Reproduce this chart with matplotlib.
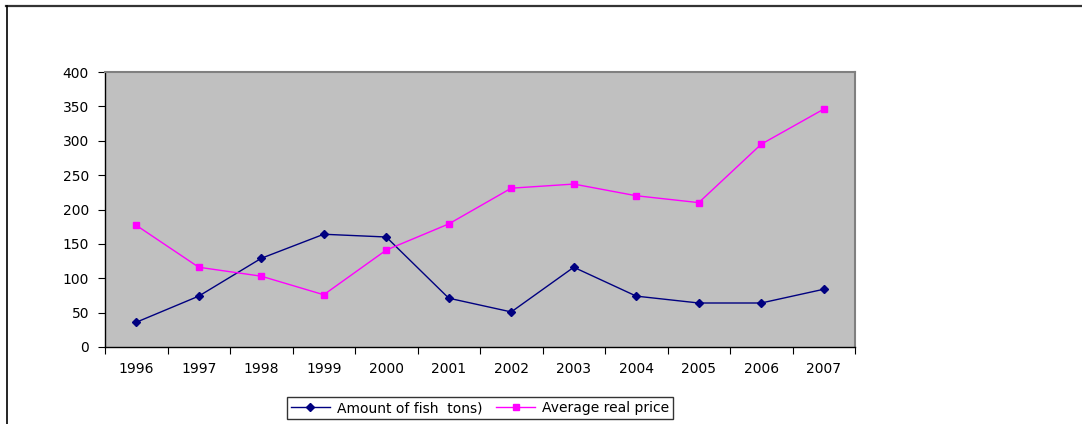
import matplotlib
matplotlib.use("Agg")
import matplotlib.pyplot as plt
from matplotlib.lines import Line2D

plt.rcParams['font.family'] = ['DejaVu Sans']

years = ['1996', '1997', '1998', '1999', '2000', '2001',
         '2002', '2003', '2004', '2005', '2006', '2007']
fish_tons = [36, 74, 129, 164, 160, 71, 51, 116, 74, 64, 64, 84]
real_price = [177, 116, 103, 76, 141, 179, 231, 237, 220, 210, 295, 346]
y_ticks = [0, 50, 100, 150, 200, 250, 300, 350, 400]

W, H = 1082, 424
fig = plt.figure(figsize=(W / 100, H / 100), dpi=100, facecolor='white')
ax = fig.add_axes([105 / W, (H - 347) / H, 750 / W, 275 / H])
ax.set_facecolor('#C0C0C0')

x = list(range(len(years)))
ax.plot(x, fish_tons, color='#000080', lw=1, marker='D', ms=4.5,
        label='Amount of fish  tons)')
ax.plot(x, real_price, color='#FF00FF', lw=1, marker='s', ms=5,
        label='Average real price')

ax.set_xlim(-0.5, len(years) - 0.5)
ax.set_ylim(0, 400)
ax.set_yticks(y_ticks)

# category boundaries get the tick marks, centres get the labels
ax.set_xticks([i - 0.5 for i in range(len(years) + 1)])
ax.set_xticklabels([])
ax.set_xticks(x, minor=True)
ax.set_xticklabels(years, minor=True)
ax.tick_params(axis='x', which='major', length=5, width=0.8, direction='out')
ax.tick_params(axis='x', which='minor', length=0, pad=11, labelsize=10)
ax.tick_params(axis='y', length=5, width=0.8, direction='out', pad=6.5, labelsize=10)

for side in ('top', 'right'):
    ax.spines[side].set_color('#808080')
    ax.spines[side].set_linewidth(1.5)
for side in ('left', 'bottom'):
    ax.spines[side].set_color('black')
    ax.spines[side].set_linewidth(1)

leg = fig.legend(loc='center', bbox_to_anchor=(480 / W, 1 - 408 / H),
                 ncol=2, fontsize=10, frameon=True, fancybox=False,
                 handlelength=2.8, handletextpad=0.5, columnspacing=1.0,
                 borderpad=0.3, markerscale=0.8)
leg.get_frame().set_edgecolor('black')
leg.get_frame().set_linewidth(1)

# outer chart border
fig.add_artist(Line2D([6 / W, 1], [1 - 5.5 / H, 1 - 5.5 / H],
                      transform=fig.transFigure, color='#333333', lw=1.6))
fig.add_artist(Line2D([6.5 / W, 6.5 / W], [0, 1 - 5.5 / H],
                      transform=fig.transFigure, color='black', lw=1.2))

fig.savefig('out.png', dpi=100, facecolor='white')
